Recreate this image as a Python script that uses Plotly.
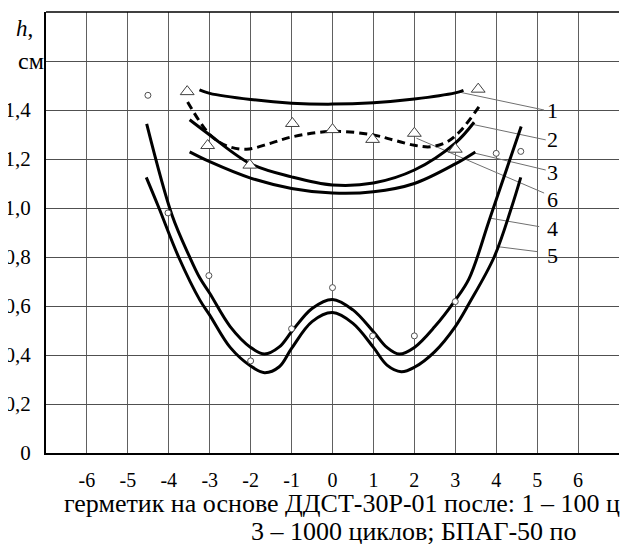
import plotly.graph_objects as go

# ---- data ----
c1_l = [-3.25, -3, -2, -1, 0, 1, 2, 3, 3.2]
c1_h = [1.482, 1.468, 1.443, 1.428, 1.424, 1.43, 1.445, 1.47, 1.48]

c2_l = [-3.49, -3, -2, -1, 0, 1, 2, 3, 3.46]
c2_h = [1.36, 1.298, 1.18, 1.127, 1.094, 1.102, 1.155, 1.265, 1.35]

c3_l = [-3.49, -3, -2, -1, 0, 1, 2, 3, 3.49]
c3_h = [1.229, 1.189, 1.122, 1.08, 1.061, 1.066, 1.10, 1.18, 1.229]

c6_l = [-3.54, -3, -2.6, -2.1, -1.5, -1, 0, 1, 1.5, 2, 2.4, 2.8, 3.1, 3.6]
c6_h = [1.433, 1.30, 1.255, 1.24, 1.265, 1.29, 1.313, 1.298, 1.277, 1.256, 1.25, 1.27, 1.31, 1.418]

c4_l = [-4.54, -3.92, -3.49, -3.24, -3, -2.5, -2, -1.66, -1.3, -1, -0.5, 0,
        0.5, 1, 1.33, 1.63, 2, 2.5, 3, 3.34, 3.85, 4.61]
c4_h = [1.343, 0.97, 0.80, 0.714, 0.652, 0.516, 0.431, 0.404, 0.433, 0.495, 0.59, 0.627,
        0.584, 0.495, 0.431, 0.404, 0.431, 0.516, 0.624, 0.713, 0.96, 1.333]

c5_l = [-4.55, -4.24, -3.76, -3.24, -3, -2.5, -2, -1.66, -1.3, -1, -0.5, 0,
        0.5, 1, 1.33, 1.68, 2, 2.5, 3, 3.34, 3.95, 4.37, 4.6]
c5_h = [1.125, 1.0, 0.8, 0.624, 0.563, 0.431, 0.355, 0.328, 0.352, 0.427, 0.536, 0.573,
        0.529, 0.431, 0.359, 0.332, 0.35, 0.414, 0.516, 0.611, 0.8, 1.0, 1.125]

tri_l = [-3.55, -3.05, -2.02, -0.98, 0, 0.98, 2.0, 3.0, 3.56]
tri_h = [1.475, 1.255, 1.175, 1.345, 1.32, 1.28, 1.305, 1.24, 1.485]

circ_l = [-4.51, -4.02, -3.02, -2.0, -1.0, 0, 0.98, 2.0, 3.0, 4.0, 4.6]
circ_h = [1.46, 0.98, 0.724, 0.376, 0.507, 0.675, 0.478, 0.478, 0.618, 1.223, 1.231]

labels = ["1", "2", "3", "6", "4", "5"]
label_l = [5.37, 5.37, 5.37, 5.37, 5.37, 5.37]
label_h = [1.40, 1.278, 1.144, 1.033, 0.917, 0.808]
lead_l0 = [3.1, 3.46, 3.5, 2.05, 3.87, 4.0]
lead_h0 = [1.473, 1.34, 1.223, 1.285, 0.958, 0.843]
lead_l1 = [5.17, 5.21, 5.21, 5.17, 5.05, 5.0]
lead_h1 = [1.40, 1.278, 1.155, 1.061, 0.924, 0.822]

x_ticks = [-7, -6, -5, -4, -3, -2, -1, 0, 1, 2, 3, 4, 5, 6, 7]
x_text = ["", "-6", "-5", "-4", "-3", "-2", "-1", "0", "1", "2", "3", "4", "5", "6", ""]
y_ticks = [0, 0.2, 0.4, 0.6, 0.8, 1.0, 1.2, 1.4, 1.6, 1.8]
y_text = ["0", "0,2", "0,4", "0,6", "0,8", "1,0", "1,2", "1,4", "", ""]

caption1 = "герметик на основе ДДСТ-30Р-01 после: 1 – 100 ц"
caption2 = "3 – 1000 циклов; БПАГ-50 по"

FONT = "Liberation Serif"

fig = go.Figure()

# leader lines
for a, b, c, d in zip(lead_l0, lead_h0, lead_l1, lead_h1):
    fig.add_trace(go.Scatter(x=[a, c], y=[b, d], mode="lines",
                             line=dict(color="#707070", width=1), hoverinfo="skip"))

for L, H, dash in [(c1_l, c1_h, "solid"), (c2_l, c2_h, "solid"), (c3_l, c3_h, "solid"),
                   (c4_l, c4_h, "solid"), (c5_l, c5_h, "solid"), (c6_l, c6_h, "8px,5px")]:
    fig.add_trace(go.Scatter(x=L, y=H, mode="lines",
                             line=dict(color="black", width=3, shape="spline", smoothing=1.0, dash=dash)))

fig.add_trace(go.Scatter(x=tri_l, y=tri_h, mode="markers",
                         marker=dict(symbol="triangle-up", size=12, color="white",
                                     line=dict(color="#404040", width=1))))
fig.add_trace(go.Scatter(x=circ_l, y=circ_h, mode="markers",
                         marker=dict(symbol="circle", size=6, color="white",
                                     line=dict(color="#505050", width=1))))

for t, x, y in zip(labels, label_l, label_h):
    fig.add_annotation(x=x, y=y, text=t, showarrow=False, xanchor="center", yanchor="middle",
                       font=dict(family=FONT, size=22, color="black"))

fig.add_annotation(x=6.25, y=-0.098, text="<i>l</i>, см", showarrow=False, xanchor="left",
                   align="left", yanchor="middle", font=dict(family=FONT, size=21, color="black"))
fig.add_annotation(xref="paper", yref="paper", x=-0.037, y=0.962, text="<i>h</i>,",
                   showarrow=False, xanchor="center", yanchor="middle",
                   font=dict(family=FONT, size=23, color="black"))
fig.add_annotation(xref="paper", yref="paper", x=-0.026, y=0.8885, text="см",
                   showarrow=False, xanchor="center", yanchor="middle",
                   font=dict(family=FONT, size=24, color="black"))
fig.add_annotation(xref="paper", yref="paper", x=0.0279, y=-0.1134, text=caption1,
                   showarrow=False, xanchor="left", align="left", yanchor="middle",
                   font=dict(family=FONT, size=26, color="black"))
fig.add_annotation(xref="paper", yref="paper", x=0.3537, y=-0.179, text=caption2,
                   showarrow=False, xanchor="left", align="left", yanchor="middle",
                   font=dict(family=FONT, size=26, color="black"))

# top border of the frame
fig.add_shape(type="line", xref="paper", yref="paper", x0=0, x1=1, y0=1, y1=1,
              line=dict(color="black", width=1.5))

# page has an 8px body margin, so the figure is 8px smaller and shifted
fig.update_layout(
    width=627, height=536,
    margin=dict(l=38, r=16, t=4, b=91, autoexpand=False),
    paper_bgcolor="white", plot_bgcolor="white",
    showlegend=False,
    xaxis=dict(range=[-7, 7], tickvals=x_ticks, ticktext=x_text, showgrid=True,
               gridcolor="#606060", gridwidth=1, zeroline=False, showline=True,
               linecolor="black", linewidth=2, ticks="", ticklabelstandoff=8,
               automargin=False,
               tickfont=dict(family=FONT, size=20, color="black")),
    yaxis=dict(range=[0, 1.8], tickvals=y_ticks, ticktext=y_text, showgrid=True,
               gridcolor="#505050", gridwidth=1, zeroline=False, showline=True,
               linecolor="black", linewidth=2, ticks="", ticklabelstandoff=9,
               automargin=False,
               tickfont=dict(family=FONT, size=21, color="black")),
)

css_fix = (
    "var st=document.createElement('style');"
    "st.textContent='.main-svg text{font-family:\"Liberation Serif\",\"Times New Roman\",serif !important;}';"
    "document.head.appendChild(st);"
)

fig.write_html("out.html", post_script=css_fix)
